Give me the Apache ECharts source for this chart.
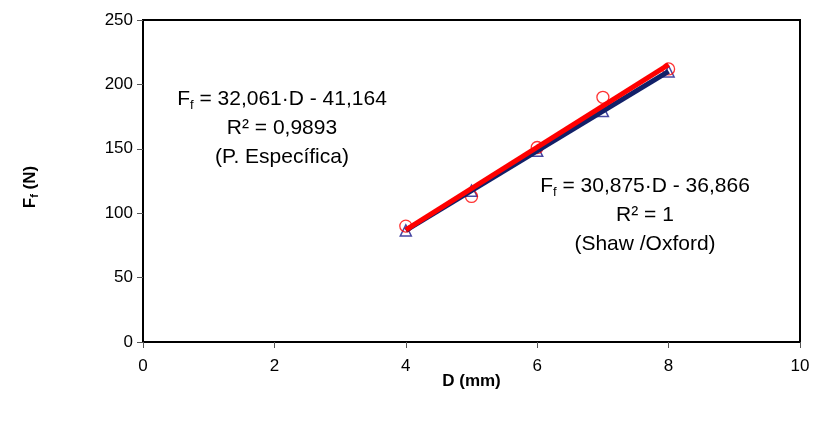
<!DOCTYPE html>
<html><head><meta charset="utf-8">
<script src="https://cdn.jsdelivr.net/npm/echarts@6/dist/echarts.min.js"></script>
<style>html,body{margin:0;padding:0;background:#fff}#c{width:814px;height:421px}</style>
</head><body><div id="c"></div>
<script>
const dValues = [4, 5, 6, 7, 8];
const shawOxford = [86.6, 117.5, 148.4, 179.3, 210.1];
const pEspecifica = [90, 113, 151, 190, 212];
const trendShawX = [4, 8];
const trendShawY = [86.63, 210.13];
const trendEspX = [4, 8];
const trendEspY = [87.08, 215.32];
const xTicks = [0, 2, 4, 6, 8, 10];
const yTicks = [0, 50, 100, 150, 200, 250];

const font = '"Liberation Sans", Arial, sans-serif';
const chart = echarts.init(document.getElementById('c'));
const zip = (a, b) => a.map((v, i) => [v, b[i]]);

const eqRich = {
  t: {fontSize: 21, fontFamily: font, color: '#000', lineHeight: 29},
  s: {fontSize: 13, fontFamily: font, color: '#000', lineHeight: 29, padding: [11, 0, 0, 0]}
};

chart.setOption({
  animation: false,
  backgroundColor: '#fff',
  grid: {left: 143, right: 14, top: 20, bottom: 79, show: true, borderColor: '#000', borderWidth: 2, backgroundColor: 'transparent'},
  xAxis: {
    type: 'value', min: xTicks[0], max: xTicks[xTicks.length - 1], interval: 2,
    name: 'D (mm)', nameLocation: 'middle', nameGap: 31, nameMoveOverlap: false,
    nameTextStyle: {fontFamily: font, fontWeight: 'bold', fontSize: 17, color: '#000'},
    axisLine: {show: true, lineStyle: {color: '#000', width: 2}},
    axisTick: {show: true, length: 6, lineStyle: {color: '#555'}},
    axisLabel: {fontFamily: font, fontSize: 17, color: '#000', margin: 16},
    splitLine: {show: false}
  },
  yAxis: {
    type: 'value', min: yTicks[0], max: yTicks[yTicks.length - 1], interval: 50,
    axisLine: {show: true, lineStyle: {color: '#000', width: 2}},
    axisTick: {show: true, length: 6, lineStyle: {color: '#555'}},
    axisLabel: {fontFamily: font, fontSize: 17, color: '#000', margin: 10},
    splitLine: {show: false}
  },
  graphic: [
    {
      type: 'text', x: 30, y: 187, rotation: Math.PI / 2, originX: 0, originY: 0,
      style: {
        text: '{b|F}{bs|f}{b| (N)}', align: 'center', verticalAlign: 'middle',
        rich: {
          b: {fontFamily: font, fontWeight: 'bold', fontSize: 17, color: '#000', lineHeight: 22},
          bs: {fontFamily: font, fontWeight: 'bold', fontSize: 11, color: '#000', lineHeight: 22, padding: [9, 0, 0, 0]}
        }
      }
    },
    {
      type: 'text', x: 282, y: 85,
      style: {
        text: '{t|F}{s|f}{t| = 32,061·D - 41,164}\n{t|R² = 0,9893}\n{t|(P. Específica)}',
        align: 'center', verticalAlign: 'top', rich: eqRich
      }
    },
    {
      type: 'text', x: 645, y: 172,
      style: {
        text: '{t|F}{s|f}{t| = 30,875·D - 36,866}\n{t|R² = 1}\n{t|(Shaw /Oxford)}',
        align: 'center', verticalAlign: 'top', rich: eqRich
      }
    }
  ],
  series: [
    {
      type: 'scatter', name: 'Shaw/Oxford', data: zip(dValues, shawOxford),
      symbol: 'triangle', symbolSize: 11, z: 2,
      itemStyle: {color: '#fff', borderColor: '#1a1a8c', borderWidth: 1.5}
    },
    {
      type: 'scatter', name: 'P. Específica', data: zip(dValues, pEspecifica),
      symbol: 'circle', symbolSize: 12, z: 2,
      itemStyle: {color: 'rgba(255,255,255,0)', borderColor: '#ff0000', borderWidth: 1.3}
    },
    {
      type: 'line', data: zip(trendShawX, trendShawY), symbol: 'none', z: 3,
      lineStyle: {color: '#122068', width: 5}
    },
    {
      type: 'line', data: zip(trendEspX, trendEspY), symbol: 'none', z: 4,
      lineStyle: {color: '#ff0000', width: 5}
    }
  ]
});
</script></body></html>
